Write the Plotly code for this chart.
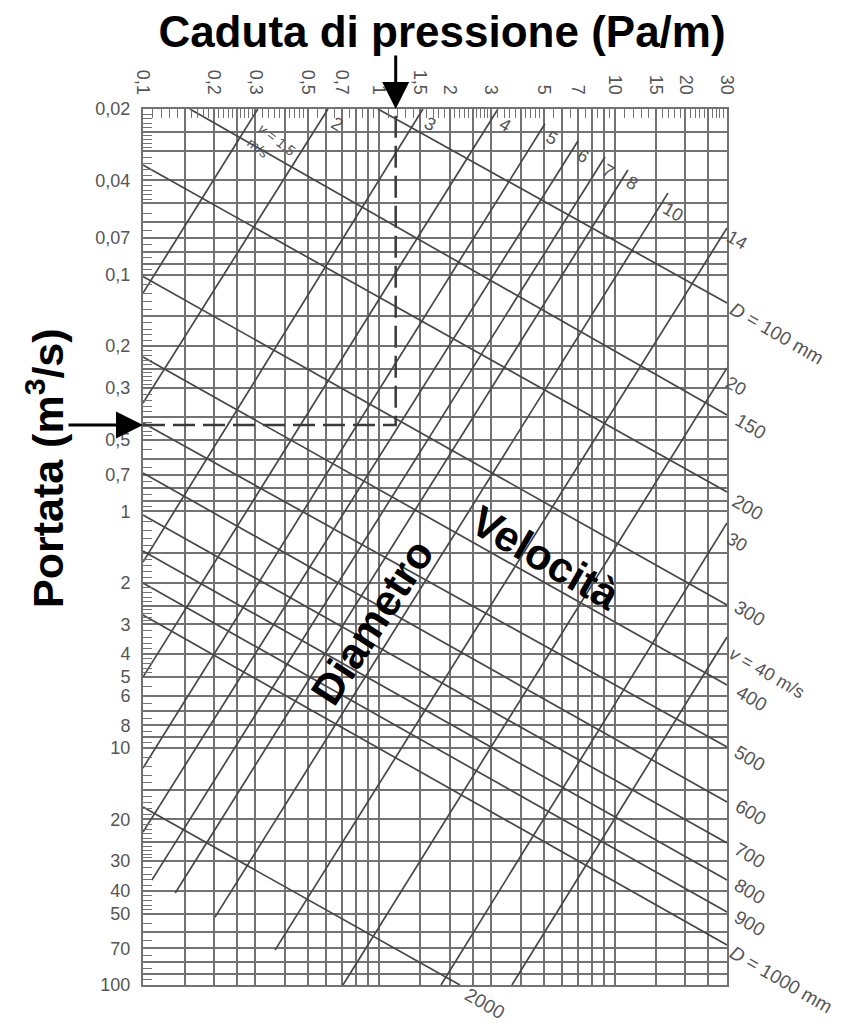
import numpy as np
import plotly.graph_objects as go

# ---------------- data ----------------
# grid values (Pa/m on x, m3/s on y)
x_grid = [0.1, 0.15, 0.2, 0.25, 0.3, 0.4, 0.5, 0.6, 0.7, 0.8, 0.9, 1, 1.5, 2, 2.5, 3, 4, 5, 6, 7, 8, 9,
          10, 15, 20, 25, 30]
x_text = ["0,1", "", "0,2", "", "0,3", "", "0,5", "", "0,7", "", "", "1", "1,5", "2", "", "3", "", "5", "", "7", "", "",
          "10", "15", "20", "", "30"]
y_grid = [0.02, 0.025, 0.03, 0.04, 0.05, 0.06, 0.07, 0.08, 0.09, 0.1, 0.15, 0.2, 0.25, 0.3, 0.4, 0.5, 0.6, 0.7,
          0.8, 0.9, 1, 1.5, 2, 2.5, 3, 4, 5, 6, 7, 8, 9, 10, 15, 20, 25, 30, 40, 50, 60, 70, 80, 90, 100]
y_text = ["0,02", "", "", "0,04", "", "", "0,07", "", "", "0,1", "", "0,2", "", "0,3", "", "0,5", "", "0,7",
          "", "", "1", "", "2", "", "3", "4", "5", "6", "", "8", "", "10", "", "20", "", "30", "40", "50", "", "70", "", "", "100"]

# diameter lines: start (R1,Q1) -> end (R2,Q2)
diam_labels = ["<i>D</i> = 100 mm", "150", "200", "300", "400", "500", "600", "700", "800", "900",
               "<i>D</i> = 1000 mm", "2000"]
diam_R1 = [0.992, 0.158, 0.1, 0.1, 0.1, 0.1, 0.1, 0.1, 0.1, 0.1, 0.1, 0.1]
diam_Q1 = [0.02, 0.02, 0.0345, 0.102, 0.223, 0.424, 0.689, 1.036, 1.471, 2.008, 2.741, 17.73]
diam_R2 = [30, 30, 30, 30, 30, 30, 30, 30, 30, 30, 30, 2.21]
diam_Q2 = [0.132, 0.392, 0.829, 2.487, 5.413, 9.893, 16.89, 25.16, 36.06, 49.22, 67.84, 100]

# velocity lines: lower-left (R1,Q1) -> upper-right (R2,Q2)
vel_labels = ["<i>v</i> = 1,5<br>m/s", "2", "3", "4", "5", "6", "7", "8", "10", "14", "20", "30",
              "<i>v</i> = 40 m/s"]
vel_R1 = [0.1, 0.1, 0.1, 0.1, 0.1, 0.1, 0.109, 0.137, 0.202, 0.363, 0.705, 1.836, 3.672]
vel_Q1 = [0.1197, 0.349, 1.637, 5.008, 12.13, 22.61, 36.06, 40.91, 51.68, 71.22, 100, 100, 100]
vel_R2 = [0.307, 0.609, 1.539, 3.203, 5.068, 6.996, 9.107, 11.40, 16.85, 30, 30, 30, 30]
vel_Q2 = [0.02, 0.02, 0.02, 0.02, 0.0231, 0.0273, 0.0319, 0.0362, 0.0453, 0.0636, 0.248, 1.120, 3.395]

# worked example (dashed reading lines)
R_sel = 1.18
Q_sel = 0.432

# ---------------- style ----------------
FONT = "Liberation Sans, Arial, Helvetica, sans-serif"
GRID = "#727272"
LINE = "#474747"
LBL = "#555555"

OFF = 8                      # page body margin of the html page
W, H = 846 - OFF, 1024 - OFF
L, T = 143 - OFF, 109 - OFF
PW, PH = 584, 876
R, B = W - L - PW, H - T - PH


def px(xp, yp):
    """page pixel -> paper coordinates"""
    return (xp - OFF - L) / PW, 1 - (yp - OFF - T) / PH


def minor_vals(lo, hi, grid):
    out = []
    for e in range(-3, 3):
        d = 10.0 ** e
        steps = [1 + 0.1 * k for k in range(1, 20)] + [3.2, 3.4, 3.6, 3.8, 4.2, 4.4, 4.6, 4.8] + \
                [5.5, 6.5, 7.5, 8.5, 9.5]
        for s in steps:
            v = round(s * d, 6)
            if lo < v < hi and all(abs(v - g) / g > 1e-6 for g in grid):
                out.append(v)
    return sorted(out)


fig = go.Figure()

# diameter lines
dx, dy = [], []
for r1, q1, r2, q2 in zip(diam_R1, diam_Q1, diam_R2, diam_Q2):
    dx += [r1, r2, None]
    dy += [q1, q2, None]
fig.add_trace(go.Scatter(x=dx, y=dy, mode="lines", line=dict(color=LINE, width=1.7),
                         hoverinfo="skip", showlegend=False))

# velocity lines
vx, vy = [], []
for r1, q1, r2, q2 in zip(vel_R1, vel_Q1, vel_R2, vel_Q2):
    vx += [r1, r2, None]
    vy += [q1, q2, None]
fig.add_trace(go.Scatter(x=vx, y=vy, mode="lines", line=dict(color=LINE, width=1.7),
                         hoverinfo="skip", showlegend=False))

# dashed reading lines
fig.add_trace(go.Scatter(x=[x_grid[0], R_sel, R_sel], y=[Q_sel, Q_sel, y_grid[0]], mode="lines",
                         line=dict(color="#3a3a3a", width=2.5, dash="22px,8px"),
                         hoverinfo="skip", showlegend=False))

ann = []
# diameter labels at right ends
diam_shift = [(50, -30), (24, -11), (21, -15), (23, -8), (25, -13), (23, -11), (24, -10), (23, -12),
              (23, -11), (23, -11), (54, -34), (25, -18)]
for lab, r2, q2, (sx, sy) in zip(diam_labels, diam_R2, diam_Q2, diam_shift):
    ann.append(dict(x=np.log10(r2), y=np.log10(q2), xref="x", yref="y", text=lab, showarrow=False,
                    xshift=sx, yshift=sy, textangle=30, xanchor="center", yanchor="middle",
                    font=dict(family=FONT, size=19, color=LBL)))

# velocity labels at upper ends
vel_shift = [(14, -38), (9, -15), (7, -15), (7, -16), (7, -14), (5, -15), (3, -14), (4, -13), (5, -19),
             (10, -12), (9, -18), (10, -19), (40, -36)]
for i, (lab, r2, q2, (sx, sy)) in enumerate(zip(vel_labels, vel_R2, vel_Q2, vel_shift)):
    ann.append(dict(x=np.log10(r2), y=np.log10(q2), xref="x", yref="y", text=lab, showarrow=False,
                    xshift=sx, yshift=sy, textangle=38 if i == 0 else 30, xanchor="center",
                    yanchor="middle", align="left",
                    font=dict(family=FONT, size=14 if i == 0 else 18, color=LBL)))

# arrows
ann.append(dict(x=np.log10(R_sel), y=np.log10(y_grid[0]), xref="x", yref="y", text="", showarrow=True,
                ax=0, ay=-55, axref="pixel", ayref="pixel", arrowhead=2, arrowsize=1.8, arrowwidth=3,
                arrowcolor="black", standoff=0))
ann.append(dict(x=np.log10(x_grid[0]), y=np.log10(Q_sel), xref="x", yref="y", text="", showarrow=True,
                ax=-76, ay=0, axref="pixel", ayref="pixel", arrowhead=2, arrowsize=1.8, arrowwidth=3,
                arrowcolor="black", standoff=0))

# big labels
bx, by = px(45, 468)
ann.append(dict(x=bx, y=by, xref="paper", yref="paper", text="Portata (m<sup>3</sup>/s)", showarrow=False,
                textangle=-90, xanchor="center", yanchor="middle",
                font=dict(family=FONT, size=43, color="black", weight="bold")))
bx, by = px(372, 622)
ann.append(dict(x=bx, y=by, xref="paper", yref="paper", text="Diametro", showarrow=False,
                textangle=-57, xanchor="center", yanchor="middle",
                font=dict(family=FONT, size=43, color="black", weight="bold")))
bx, by = px(546, 558)
ann.append(dict(x=bx, y=by, xref="paper", yref="paper", text="Velocità", showarrow=False,
                textangle=30, xanchor="center", yanchor="middle",
                font=dict(family=FONT, size=43, color="black", weight="bold")))

fig.update_layout(
    width=W, height=H,
    margin=dict(l=L, r=R, t=T, b=B, pad=0),
    paper_bgcolor="white", plot_bgcolor="white",
    showlegend=False, hovermode=False,
    title=dict(text="Caduta di pressione (Pa/m)", x=(442 - OFF) / W, y=1 - (32 - OFF) / H,
               xref="container", yref="container", xanchor="center", yanchor="middle",
               font=dict(family=FONT, size=44, color="black", weight="bold")),
    annotations=ann,
)

fig.update_xaxes(type="log", range=[np.log10(x_grid[0]), np.log10(x_grid[-1])], side="top",
                 tickmode="array", tickvals=x_grid, ticktext=x_text, tickangle=90, ticks="",
                 ticklabelstandoff=6,
                 tickfont=dict(family=FONT, size=18, color=LBL),
                 showgrid=True, gridcolor=GRID, gridwidth=1.6, zeroline=False,
                 showline=True, linecolor=GRID, linewidth=2, mirror=True,
                 minor=dict(tickmode="array", tickvals=minor_vals(x_grid[0], x_grid[-1], x_grid),
                            ticks="inside", ticklen=9, tickwidth=1.4, tickcolor=GRID, showgrid=False))
fig.update_yaxes(type="log", range=[np.log10(y_grid[-1]), np.log10(y_grid[0])],
                 tickmode="array", tickvals=y_grid, ticktext=y_text, ticks="",
                 ticklabelstandoff=7,
                 tickfont=dict(family=FONT, size=18, color=LBL),
                 showgrid=True, gridcolor=GRID, gridwidth=1.6, zeroline=False,
                 showline=True, linecolor=GRID, linewidth=2, mirror=True,
                 minor=dict(tickmode="array", tickvals=minor_vals(y_grid[0], y_grid[-1], y_grid),
                            ticks="inside", ticklen=9, tickwidth=1.4, tickcolor=GRID, showgrid=False))

fig.write_html("out.html")
